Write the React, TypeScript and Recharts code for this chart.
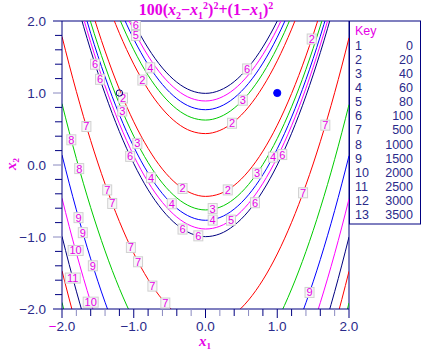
import React from "react";
import { ComposedChart, Line, Scatter, XAxis, YAxis, ReferenceLine } from "recharts";

// ---- contour levels (key) ----
const KEY_IDS = [1, 2, 3, 4, 5, 6, 7, 8, 9, 10, 11, 12, 13];
const KEY_LEVELS = [0, 20, 40, 60, 80, 100, 500, 1000, 1500, 2000, 2500, 3000, 3500];

// ---- axis ticks ----
const MAJOR_TICKS = [-2, -1, 0, 1, 2];
const MINOR_TICKS = [-2, -1.8, -1.6, -1.4, -1.2, -1, -0.8, -0.6, -0.4, -0.2, 0, 0.2, 0.4, 0.6, 0.8, 1, 1.2, 1.4, 1.6, 1.8, 2];
const TICK_LABELS = ["\u22122.0", "\u22121.0", "0.0", "1.0", "2.0"];

// ---- contour branches, [x1, x2] ----
const L20_UP = [[-1.3, 2.074], [-1.2, 1.829], [-1.1, 1.605], [-1.0, 1.4], [-0.9, 1.215], [-0.8, 1.049], [-0.6, 0.778], [-0.4, 0.585], [-0.2, 0.471], [0, 0.436], [0.2, 0.48], [0.4, 0.603], [0.6, 0.805], [0.8, 1.087], [0.9, 1.257], [1.0, 1.447], [1.1, 1.657], [1.2, 1.887], [1.3, 2.136]];
const L20_LO = [[-1.6, 2.196], [-1.5, 1.879], [-1.4, 1.583], [-1.3, 1.306], [-1.2, 1.051], [-1.1, 0.815], [-1.0, 0.6], [-0.9, 0.405], [-0.8, 0.231], [-0.6, -0.058], [-0.4, -0.265], [-0.2, -0.391], [0, -0.436], [0.2, -0.4], [0.4, -0.283], [0.6, -0.085], [0.8, 0.193], [0.9, 0.363], [1.0, 0.553], [1.1, 0.763], [1.2, 0.993], [1.3, 1.244], [1.4, 1.515], [1.5, 1.806], [1.6, 2.117]];
const L40_UP = [[-1.3, 2.279], [-1.2, 2.033], [-1.1, 1.807], [-1.0, 1.6], [-0.9, 1.413], [-0.8, 1.246], [-0.6, 0.972], [-0.4, 0.777], [-0.2, 0.661], [0, 0.624], [0.2, 0.667], [0.4, 0.79], [0.6, 0.991], [0.8, 1.272], [0.9, 1.442], [1.0, 1.632], [1.1, 1.842], [1.2, 2.072]];
const L40_LO = [[-1.7, 2.318], [-1.6, 1.983], [-1.5, 1.669], [-1.4, 1.375], [-1.3, 1.101], [-1.2, 0.847], [-1.1, 0.613], [-1.0, 0.4], [-0.9, 0.207], [-0.8, 0.034], [-0.6, -0.252], [-0.4, -0.457], [-0.2, -0.581], [0, -0.624], [0.2, -0.587], [0.4, -0.47], [0.6, -0.271], [0.8, 0.008], [0.9, 0.178], [1.0, 0.368], [1.1, 0.578], [1.2, 0.808], [1.3, 1.058], [1.4, 1.329], [1.5, 1.62], [1.6, 1.93], [1.7, 2.261]];
const L60_UP = [[-1.2, 2.183], [-1.1, 1.956], [-1.0, 1.748], [-0.9, 1.561], [-0.8, 1.393], [-0.6, 1.118], [-0.4, 0.922], [-0.2, 0.805], [0, 0.768], [0.2, 0.81], [0.4, 0.932], [0.6, 1.134], [0.8, 1.415], [0.9, 1.585], [1.0, 1.775], [1.1, 1.985], [1.2, 2.215]];
const L60_LO = [[-1.8, 2.518], [-1.7, 2.164], [-1.6, 1.83], [-1.5, 1.517], [-1.4, 1.224], [-1.3, 0.95], [-1.2, 0.697], [-1.1, 0.464], [-1.0, 0.252], [-0.9, 0.059], [-0.8, -0.113], [-0.6, -0.398], [-0.4, -0.602], [-0.2, -0.725], [0, -0.768], [0.2, -0.73], [0.4, -0.612], [0.6, -0.414], [0.8, -0.135], [0.9, 0.035], [1.0, 0.225], [1.1, 0.435], [1.2, 0.665], [1.3, 0.915], [1.4, 1.186], [1.5, 1.477], [1.6, 1.788], [1.7, 2.119]];
const L80_UP = [[-1.2, 2.307], [-1.1, 2.079], [-1.0, 1.872], [-0.9, 1.684], [-0.8, 1.516], [-0.6, 1.24], [-0.4, 1.043], [-0.2, 0.926], [0, 0.889], [0.2, 0.931], [0.4, 1.052], [0.6, 1.254], [0.8, 1.534], [0.9, 1.704], [1.0, 1.894], [1.1, 2.104]];
const L80_LO = [[-1.8, 2.391], [-1.7, 2.037], [-1.6, 1.704], [-1.5, 1.391], [-1.4, 1.098], [-1.3, 0.826], [-1.2, 0.573], [-1.1, 0.341], [-1.0, 0.128], [-0.9, -0.064], [-0.8, -0.236], [-0.6, -0.52], [-0.4, -0.723], [-0.2, -0.846], [0, -0.889], [0.2, -0.851], [0.4, -0.732], [0.6, -0.534], [0.8, -0.254], [0.9, -0.084], [1.0, 0.106], [1.1, 0.316], [1.2, 0.546], [1.3, 0.796], [1.4, 1.066], [1.5, 1.357], [1.6, 1.668], [1.7, 1.998], [1.8, 2.349]];
const L100_UP = [[-1.1, 2.188], [-1.0, 1.98], [-0.9, 1.792], [-0.8, 1.624], [-0.6, 1.347], [-0.4, 1.15], [-0.2, 1.033], [0, 0.995], [0.2, 1.037], [0.4, 1.158], [0.6, 1.36], [0.8, 1.64], [0.9, 1.81], [1.0, 2.0], [1.1, 2.21]];
const L100_LO = [[-1.8, 2.28], [-1.7, 1.927], [-1.6, 1.594], [-1.5, 1.282], [-1.4, 0.989], [-1.3, 0.717], [-1.2, 0.464], [-1.1, 0.232], [-1.0, 0.02], [-0.9, -0.172], [-0.8, -0.344], [-0.6, -0.627], [-0.4, -0.83], [-0.2, -0.953], [0, -0.995], [0.2, -0.957], [0.4, -0.838], [0.6, -0.64], [0.8, -0.36], [0.9, -0.19], [1.0, 0.0], [1.1, 0.21], [1.2, 0.44], [1.3, 0.69], [1.4, 0.96], [1.5, 1.251], [1.6, 1.561], [1.7, 1.892], [1.8, 2.243]];
const L500_L = [[-2.0, 1.784], [-1.9, 1.393], [-1.8, 1.022], [-1.7, 0.67], [-1.6, 0.339], [-1.5, 0.028], [-1.4, -0.263], [-1.3, -0.534], [-1.2, -0.785], [-1.1, -1.016], [-1.0, -1.227], [-0.9, -1.418], [-0.8, -1.589], [-0.7, -1.74], [-0.6, -1.87], [-0.5, -1.981], [-0.4, -2.072]];
const L500_R = [[0.4, -2.075], [0.5, -1.986], [0.6, -1.876], [0.7, -1.746], [0.8, -1.596], [0.9, -1.426], [1.0, -1.236], [1.1, -1.026], [1.2, -0.796], [1.3, -0.546], [1.4, -0.276], [1.5, 0.014], [1.6, 0.324], [1.7, 0.654], [1.8, 1.004], [1.9, 1.374], [2.0, 1.766]];
const L1000_L = [[-2.0, 0.852], [-1.9, 0.461], [-1.8, 0.09], [-1.7, -0.261], [-1.6, -0.592], [-1.5, -0.902], [-1.4, -1.193], [-1.3, -1.464], [-1.2, -1.715], [-1.1, -1.945], [-1.0, -2.156]];
const L1000_R = [[1.0, -2.162], [1.1, -1.952], [1.2, -1.722], [1.3, -1.472], [1.4, -1.202], [1.5, -0.912], [1.6, -0.602], [1.7, -0.272], [1.8, 0.078], [1.9, 0.449], [2.0, 0.839]];
const L1500_L = [[-2.0, 0.139], [-1.9, -0.252], [-1.8, -0.623], [-1.7, -0.974], [-1.6, -1.304], [-1.5, -1.615], [-1.4, -1.906], [-1.3, -2.176]];
const L1500_R = [[1.3, -2.183], [1.4, -1.913], [1.5, -1.623], [1.6, -1.313], [1.7, -0.983], [1.8, -0.633], [1.9, -0.262], [2.0, 0.128]];
const L2000_L = [[-2.0, -0.462], [-1.9, -0.853], [-1.8, -1.223], [-1.7, -1.574], [-1.6, -1.905], [-1.5, -2.215]];
const L2000_R = [[1.5, -2.222], [1.6, -1.912], [1.7, -1.582], [1.8, -1.232], [1.9, -0.862], [2.0, -0.471]];
const L2500_L = [[-2.0, -0.991], [-1.9, -1.382], [-1.8, -1.752], [-1.7, -2.103]];
const L2500_R = [[1.7, -2.11], [1.8, -1.76], [1.9, -1.39], [2.0, -0.999]];
const L3000_L = [[-2.0, -1.469], [-1.9, -1.86], [-1.8, -2.23]];
const L3000_R = [[1.8, -2.237], [1.9, -1.867], [2.0, -1.476]];
const L3500_L = [[-2.0, -1.908], [-1.95, -2.106]];
const L3500_R = [[1.95, -2.113], [2.0, -1.915]];

// ---- contour labels [text, x1, x2] ----
const LABELS = [
  ["6", -0.97, 1.95], ["5", -0.97, 1.8], ["2", 1.48, 1.75], ["6", -1.54, 1.4], ["6", -1.47, 1.19],
  ["2", -1.15, 0.93], ["3", -1.16, 0.75], ["4", -0.77, 1.35], ["2", -0.88, 1.18], ["7", -1.66, 0.535],
  ["8", -1.87, 0.35], ["3", -0.95, 0.3], ["6", -1.05, 0.12], ["8", -1.76, -0.05], ["4", -0.76, -0.176],
  ["2", -0.32, -0.326], ["2", 0.31, -0.346], ["3", 0.72, -0.114], ["4", 0.94, 0.109], ["6", 1.07, 0.145],
  ["4", -0.47, -0.539], ["3", 0.1, -0.605], ["4", 0.1, -0.765], ["5", 0.355, -0.766], ["6", 0.69, -0.524],
  ["6", -0.32, -0.89], ["6", -0.1, -0.984], ["7", -1.37, -0.346], ["7", -1.3, -0.534], ["9", -1.77, -0.731],
  ["9", -1.71, -0.94], ["10", -1.81, -1.187], ["7", -1.04, -1.145], ["9", -1.57, -1.4], ["7", -0.94, -1.344],
  ["11", -1.85, -1.57], ["7", -0.74, -1.682], ["10", -1.6, -1.905], ["7", -0.56, -1.917], ["9", 1.45, -1.77],
  ["7", 1.67, 0.553], ["7", 1.36, -0.386], ["6", 0.58, 1.334], ["3", 0.52, 0.9], ["2", 0.37, 0.58],
];

// ---- markers ----
const START_POINT = [[-1.2, 1.0]];
const MIN_POINT = [[1.0, 1.0]];

const NAVY = "#000080";
const MAG = "#e600e6";
const RED = "#ff0000";
const GREEN = "#00cc00";
const BLUE = "#0000ff";
const PINK = "#ff00ff";
const LEVEL_COLORS = [NAVY, RED, GREEN, BLUE, PINK, NAVY, RED, GREEN, BLUE, PINK, NAVY, RED, GREEN];

const toPts = (arr: number[][]) => arr.map(([x, y]) => ({ x, y }));

const BRANCHES: { pts: number[][]; level: number }[] = [
  { pts: L20_UP, level: 2 }, { pts: L20_LO, level: 2 },
  { pts: L40_UP, level: 3 }, { pts: L40_LO, level: 3 },
  { pts: L60_UP, level: 4 }, { pts: L60_LO, level: 4 },
  { pts: L80_UP, level: 5 }, { pts: L80_LO, level: 5 },
  { pts: L100_UP, level: 6 }, { pts: L100_LO, level: 6 },
  { pts: L500_L, level: 7 }, { pts: L500_R, level: 7 },
  { pts: L1000_L, level: 8 }, { pts: L1000_R, level: 8 },
  { pts: L1500_L, level: 9 }, { pts: L1500_R, level: 9 },
  { pts: L2000_L, level: 10 }, { pts: L2000_R, level: 10 },
  { pts: L2500_L, level: 11 }, { pts: L2500_R, level: 11 },
  { pts: L3000_L, level: 12 }, { pts: L3000_R, level: 12 },
  { pts: L3500_L, level: 13 }, { pts: L3500_R, level: 13 },
];

const labelData = LABELS.map(([t, x, y]) => ({ t, x, y }));

const isMajor = (v: number) => Math.abs(v - Math.round(v)) < 1e-6;
const majorLabel = (v: number) => TICK_LABELS[MAJOR_TICKS.indexOf(Math.round(v))];
const TICK_FONT = "'Liberation Sans', Arial, sans-serif";
const TEXT_NAVY = "#2a2a8a";

const XTick = (props: any) => {
  const { x, y, payload } = props;
  const v = payload.value;
  const major = isMajor(v);
  const len = major ? 9 : 7;
  const grey = Math.round(Math.abs(v) * 5) % 2 === 1 && !major;
  const label = major ? majorLabel(v) : "";
  return (
    <g>
      <line x1={x} y1={y} x2={x} y2={y + len} stroke={grey ? "#8a8ac0" : NAVY} strokeWidth={1} />
      {major && (
        <text x={x} y={y + 22} textAnchor="middle" fontFamily={TICK_FONT} fontSize={13.5} fill={TEXT_NAVY}>
          {v === -2 ? (
            <>
              <tspan fill={MAG}>{"\u2212"}</tspan>
              {label.slice(1)}
            </>
          ) : (
            label
          )}
        </text>
      )}
    </g>
  );
};

const YTick = (props: any) => {
  const { x, y, payload } = props;
  const v = payload.value;
  const major = isMajor(v);
  const len = major ? 9 : 7;
  const midMajor = major && Math.abs(v) < 1.5;
  const label = major ? majorLabel(v) : "";
  return (
    <g>
      <line x1={x - len} y1={y} x2={x} y2={y} stroke={midMajor ? "#8a8ac0" : NAVY} strokeWidth={1} />
      {major && (
        <text x={x - 16} y={y + 5} textAnchor="end" fontFamily={TICK_FONT} fontSize={13.5} fill={TEXT_NAVY}>
          {label}
        </text>
      )}
    </g>
  );
};

const LabelShape = (props: any) => {
  const { cx, cy, payload } = props;
  if (cx == null || cy == null) return <g />;
  const t = String(payload.t);
  const w = t.length * 6 + 3;
  return (
    <g>
      <rect x={cx - w / 2} y={cy - 5} width={w} height={10} fill="#f7f7f7" stroke="#d0d0d0" strokeWidth={1} />
      <text x={cx} y={cy + 4} textAnchor="middle" fontFamily={TICK_FONT} fontSize={11} fill={MAG}>
        {t}
      </text>
    </g>
  );
};

const OpenCircle = (props: any) => (
  <circle cx={props.cx} cy={props.cy} r={3.2} fill="none" stroke={NAVY} strokeWidth={1} />
);
const FilledDot = (props: any) => <circle cx={props.cx} cy={props.cy} r={3.6} fill={BLUE} stroke={BLUE} />;

const SERIF = "'Liberation Serif', 'Times New Roman', serif";

export default function App() {
  return (
    <div style={{ position: "relative", width: 424, height: 351 }}>
      <style>{"html,body{margin:0;padding:0;}"}</style>
      <ComposedChart width={424} height={351} margin={{ top: 21, right: 75, bottom: 41, left: 61 }}>
        <XAxis
          dataKey="x"
          type="number"
          domain={[-2, 2]}
          allowDataOverflow
          ticks={MINOR_TICKS}
          interval={0}
          height={1}
          tickSize={0}
          tickMargin={0}
          tickLine={false}
          tick={<XTick />}
          axisLine={{ stroke: NAVY }}
        />
        <YAxis
          dataKey="y"
          type="number"
          domain={[-2, 2]}
          allowDataOverflow
          ticks={MINOR_TICKS}
          interval={0}
          width={1}
          tickSize={0}
          tickMargin={0}
          tickLine={false}
          tick={<YTick />}
          axisLine={{ stroke: NAVY }}
        />
        <ReferenceLine y={2} stroke={NAVY} strokeWidth={1} />
        <ReferenceLine x={2} stroke={NAVY} strokeWidth={1} />
        {BRANCHES.map((b, i) => (
          <Line
            key={i}
            data={toPts(b.pts)}
            dataKey="y"
            type="monotone"
            stroke={LEVEL_COLORS[b.level - 1]}
            strokeWidth={1}
            dot={false}
            activeDot={false}
            isAnimationActive={false}
          />
        ))}
        <Scatter data={labelData} dataKey="y" shape={<LabelShape />} isAnimationActive={false} />
        <Scatter data={toPts(START_POINT)} dataKey="y" shape={<OpenCircle />} isAnimationActive={false} />
        <Scatter data={toPts(MIN_POINT)} dataKey="y" shape={<FilledDot />} isAnimationActive={false} />
      </ComposedChart>
      <svg
        width={424}
        height={351}
        style={{ position: "absolute", left: 0, top: 0, pointerEvents: "none", overflow: "visible" }}
      >
        <text x={206} y={15} textAnchor="middle" fontFamily={SERIF} fontSize={16} fontWeight="bold" fill={MAG}>
          100(<tspan fontStyle="italic">x</tspan>
          <tspan fontSize={10} dy={4}>2</tspan>
          <tspan dy={-4}>{"\u2212"}</tspan>
          <tspan fontStyle="italic">x</tspan>
          <tspan fontSize={10} dy={4}>1</tspan>
          <tspan fontSize={10} dy={-10}>2</tspan>
          <tspan dy={6}>)</tspan>
          <tspan fontSize={10} dy={-6}>2</tspan>
          <tspan dy={6}>+(1{"\u2212"}</tspan>
          <tspan fontStyle="italic">x</tspan>
          <tspan fontSize={10} dy={4}>1</tspan>
          <tspan dy={-4}>)</tspan>
          <tspan fontSize={10} dy={-6}>2</tspan>
        </text>
        <text x={205} y={346} textAnchor="middle" fontFamily={SERIF} fontSize={15} fontWeight="bold" fill={MAG}>
          <tspan fontStyle="italic">x</tspan>
          <tspan fontSize={9} dy={3}>1</tspan>
        </text>
        <text
          transform="translate(16,164) rotate(-90)"
          textAnchor="middle"
          fontFamily={SERIF}
          fontSize={15}
          fontWeight="bold"
          fill={MAG}
        >
          <tspan fontStyle="italic">x</tspan>
          <tspan fontSize={9} dy={3}>2</tspan>
        </text>
        <rect x={349.5} y={21} width={71} height={203} fill="none" stroke={NAVY} strokeWidth={1} />
        <text x={355} y={35} fontFamily={TICK_FONT} fontSize={12.5} fill={MAG}>
          Key
        </text>
        {KEY_IDS.map((id, i) => (
          <g key={id}>
            <text x={355} y={49.5 + i * 14.15} fontFamily={TICK_FONT} fontSize={12.5} fill={TEXT_NAVY}>
              {id}
            </text>
            <text x={413} y={49.5 + i * 14.15} textAnchor="end" fontFamily={TICK_FONT} fontSize={12.5} fill={TEXT_NAVY}>
              {KEY_LEVELS[i]}
            </text>
          </g>
        ))}
      </svg>
    </div>
  );
}
